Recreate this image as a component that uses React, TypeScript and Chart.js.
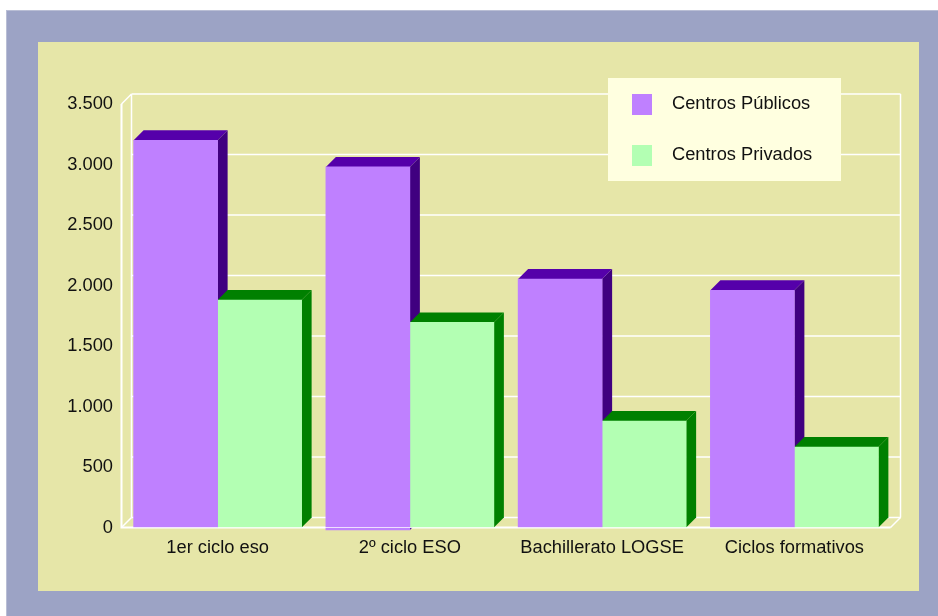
import React, { useEffect, useRef } from "react";
import { Chart, registerables } from "chart.js";

Chart.register(...registerables);

const categories = ["1er ciclo eso", "2º ciclo ESO", "Bachillerato LOGSE", "Ciclos formativos"];
const publicos = [3200, 2980, 2053, 1960];
const publicosBase = [0, -20, 0, 0];
const privados = [1880, 1695, 880, 665];
const seriesNames = ["Centros Públicos", "Centros Privados"];

const FONT = "'Liberation Sans', Arial, sans-serif";
const FONT_SIZE = 18.3;
const DEPTH = 10;
const sideColors = ["#400080", "#008000"];
const topColors = ["#5500AA", "#008000"];
const frontColors = ["#BF80FF", "#B3FFB3"];

const stage = {
  id: "stage",
  beforeDraw(chart: any) {
    const c = chart.ctx;
    const { left, right, top, bottom } = chart.chartArea;
    c.save();
    c.fillStyle = "#FFFFFF";
    c.fillRect(0, 0, 938, 616);
    c.fillStyle = "#B9BED5";
    c.fillRect(6, 10, 932, 606);
    c.fillStyle = "#9CA3C5";
    c.fillRect(7, 11, 931, 605);
    c.fillStyle = "#E6E6A8";
    c.fillRect(38, 42, 881, 549);
    c.strokeStyle = "#FFFFFF";
    c.lineWidth = 1.5;
    const y = chart.scales.y;
    y.ticks.forEach((t: any) => {
      const p = y.getPixelForValue(t.value) - DEPTH;
      c.beginPath();
      c.moveTo(left + DEPTH, p);
      c.lineTo(right + DEPTH, p);
      c.stroke();
    });
    c.beginPath();
    c.moveTo(left + DEPTH, top - DEPTH);
    c.lineTo(left + DEPTH, bottom - DEPTH);
    c.moveTo(right + DEPTH, top - DEPTH);
    c.lineTo(right + DEPTH, bottom - DEPTH);
    c.moveTo(left, top);
    c.lineTo(left + DEPTH, top - DEPTH);
    c.moveTo(left, bottom);
    c.lineTo(left + DEPTH, bottom - DEPTH);
    c.moveTo(right, bottom);
    c.lineTo(right + DEPTH, bottom - DEPTH);
    c.stroke();
    c.lineWidth = 2;
    c.beginPath();
    c.moveTo(left, top);
    c.lineTo(left, bottom);
    c.lineTo(right, bottom);
    c.stroke();
    c.restore();
  },
  beforeDatasetsDraw(chart: any) {
    const c = chart.ctx;
    [0, 1].forEach((i) => {
      chart.getDatasetMeta(i).data.forEach((bar: any) => {
        const l = bar.x - bar.width / 2;
        const r = bar.x + bar.width / 2;
        const t = bar.y;
        const b = bar.base;
        c.fillStyle = sideColors[i];
        c.beginPath();
        c.moveTo(r, t);
        c.lineTo(r + DEPTH, t - DEPTH);
        c.lineTo(r + DEPTH, b - DEPTH);
        c.lineTo(r, b);
        c.closePath();
        c.fill();
        c.fillStyle = topColors[i];
        c.beginPath();
        c.moveTo(l, t);
        c.lineTo(l + DEPTH, t - DEPTH);
        c.lineTo(r + DEPTH, t - DEPTH);
        c.lineTo(r, t);
        c.closePath();
        c.fill();
      });
    });
  },
  afterDatasetsDraw(chart: any) {
    const c = chart.ctx;
    const { left, right, bottom } = chart.chartArea;
    c.save();
    c.strokeStyle = "rgba(255,255,255,0.75)";
    c.lineWidth = 1;
    c.beginPath();
    c.moveTo(left, bottom);
    c.lineTo(right, bottom);
    c.stroke();
    c.fillStyle = "#FFFFE0";
    c.fillRect(608, 78, 233, 103);
    c.font = `${FONT_SIZE}px ${FONT}`;
    c.textBaseline = "middle";
    chart.data.datasets.forEach((d: any, i: number) => {
      const y = 94 + i * 51;
      c.fillStyle = d.backgroundColor;
      c.fillRect(632, y, 20, 21);
      c.fillStyle = "#111111";
      c.fillText(d.label, 672, y + 10);
    });
    c.restore();
  },
};

export default function App() {
  const ref = useRef<HTMLCanvasElement>(null);
  useEffect(() => {
    document.body.style.margin = "0";
    const chart = new Chart(ref.current!, {
      type: "bar",
      data: {
        labels: categories,
        datasets: [
          {
            label: seriesNames[0],
            data: publicos.map((v, i) => [publicosBase[i], v]),
            backgroundColor: frontColors[0],
            barThickness: 84,
            clip: false,
          },
          { label: seriesNames[1], data: privados, backgroundColor: frontColors[1], barThickness: 84, clip: false },
        ],
      },
      options: {
        responsive: false,
        animation: false,
        layout: { padding: { left: 0, right: 47.5, top: 104, bottom: 0 } },
        plugins: { legend: { display: false }, title: { display: false }, tooltip: { enabled: false } },
        scales: {
          x: {
            grid: { display: false, drawTicks: false },
            border: { display: false },
            ticks: { color: "#111", font: { family: FONT, size: FONT_SIZE }, padding: 9, maxRotation: 0, autoSkip: false },
            afterFit: (s: any) => { s.height = 88.5; },
          },
          y: {
            min: 0,
            max: 3500,
            grid: { display: false, drawTicks: false },
            border: { display: false },
            ticks: {
              stepSize: 500,
              color: "#111",
              padding: 8.5,
              font: { family: FONT, size: FONT_SIZE },
              callback: (v: any) => Number(v).toLocaleString("de-DE"),
            },
            afterFit: (s: any) => { s.width = 121.5; },
          },
        },
      },
      plugins: [stage],
    } as any);
    return () => chart.destroy();
  }, []);
  return <canvas ref={ref} width={938} height={616} style={{ display: "block" }} />;
}
